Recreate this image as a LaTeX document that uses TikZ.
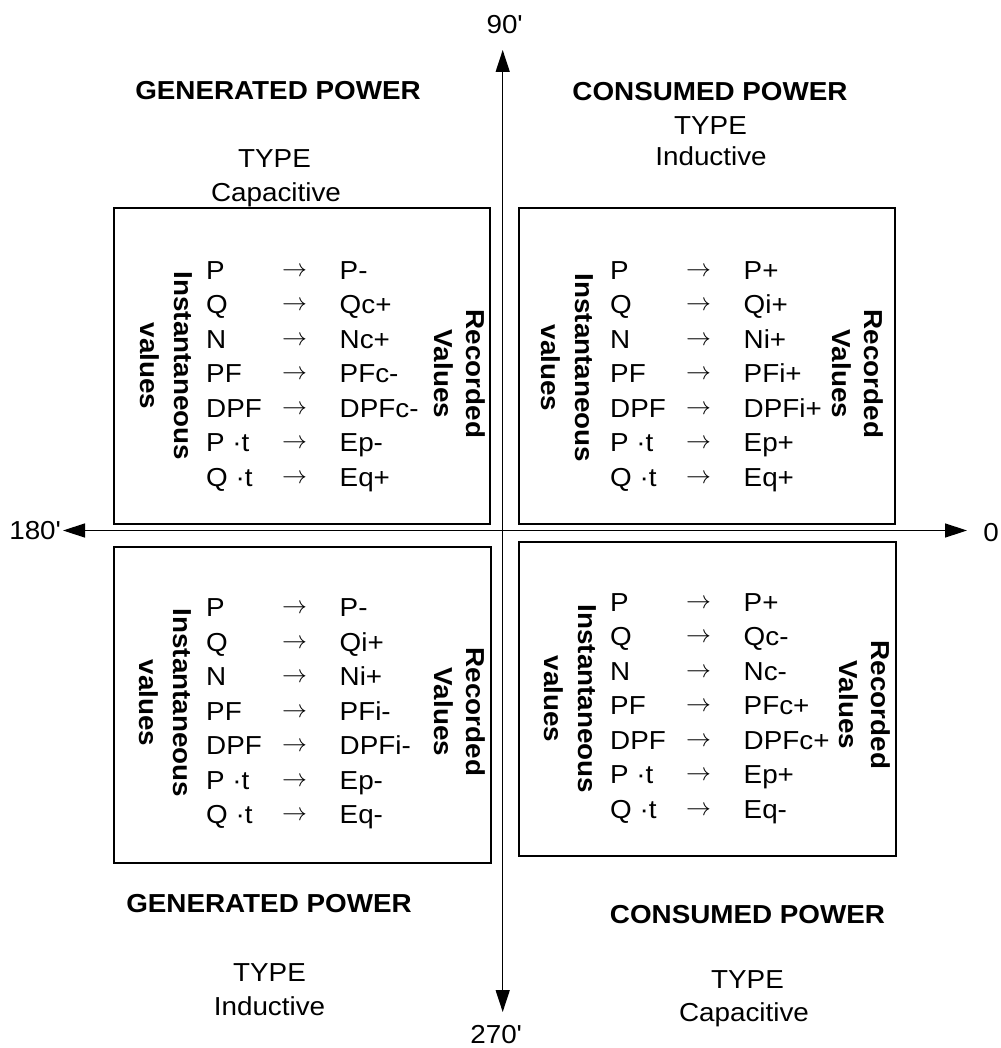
\documentclass[tikz,border=0pt]{standalone}
\usepackage{fontspec}
\setmainfont{Liberation Sans}[FakeStretch=1.07]
\usetikzlibrary{arrows.meta}
\newcommand{\arr}{\raisebox{3pt}{\fontsize{23}{23}\selectfont$\rightarrow$}}
\newcommand{\valtable}[7]{%
\begin{tabular}{@{}p{76pt}@{}p{57.5pt}@{}l@{}}
P & \arr & #1\\ Q & \arr & #2\\ N & \arr & #3\\ PF & \arr & #4\\ DPF & \arr & #5\\ P ·t & \arr & #6\\ Q ·t & \arr & #7
\end{tabular}}
\begin{document}
\begin{tikzpicture}[x=1pt,y=-1pt,
  quadbox/.style={draw, line width=1.2pt, inner sep=0pt},
  vals/.style={inner sep=0pt, anchor=west, font=\fontsize{26}{34.5}\selectfont},
  sidelab/.style={inner sep=0pt, rotate=-90, align=center, font=\bfseries\fontsize{26}{34}\selectfont},
  reclab/.style={inner sep=0pt, rotate=-90, align=center, font=\bfseries\fontsize{26}{32}\selectfont},
  head/.style={inner sep=0pt, anchor=base, font=\bfseries\fontsize{26}{30}\selectfont},
  txt/.style={inner sep=0pt, anchor=base, font=\fontsize{26}{30}\selectfont},
  axis/.style={line width=1.4pt, -{Triangle[length=22pt,width=14pt]}}]
\useasboundingbox (0,0) rectangle (1000,1048);

% boxes
\node[quadbox, minimum width=376pt, minimum height=316pt] (tl) at (302,366) {};
\node[quadbox, minimum width=376pt, minimum height=316pt] (tr) at (707,366) {};
\node[quadbox, minimum width=377pt, minimum height=316pt] (bl) at (302.5,705) {};
\node[quadbox, minimum width=377pt, minimum height=314pt] (br) at (707.5,699) {};

% axes
\coordinate (o) at (502.7,530.5);
\coordinate (east) at (967,530.5);
\coordinate (west) at (63,530.5);
\coordinate (north) at (502.7,50);
\coordinate (south) at (502.7,1012);
\draw[axis] (o) -- (east);
\draw[axis] (o) -- (west);
\draw[axis] (o) -- (north);
\draw[axis] (o) -- (south);

\node[txt] (l0) at (991,541) {0};
\node[txt] (l90) at (504.5,34) {90\textquotesingle};
\node[txt] (l180) at (35,539) {180\textquotesingle};
\node[txt] (l270) at (496,1043) {270\textquotesingle};

% tables
\node[vals] (tlv) at (206,376) {\valtable{P-}{Qc+}{Nc+}{PFc-}{DPFc-}{Ep-}{Eq+}};
\node[vals] (trv) at (610,376) {\valtable{P+}{Qi+}{Ni+}{PFi+}{DPFi+}{Ep+}{Eq+}};
\node[vals] (blv) at (206,713.5) {\valtable{P-}{Qi+}{Ni+}{PFi-}{DPFi-}{Ep-}{Eq-}};
\node[vals] (brv) at (610,708) {\valtable{P+}{Qc-}{Nc-}{PFc+}{DPFc+}{Ep+}{Eq-}};

% side labels
\node[sidelab] (tli) at (166,366) {Instantaneous\\values};
\node[reclab] (tlr) at (460,374) {Recorded\\Values};
\node[sidelab] (tri) at (567,368) {Instantaneous\\values};
\node[reclab] (trr) at (858,374) {Recorded\\Values};
\node[sidelab] (bli) at (165,703) {Instantaneous\\values};
\node[reclab] (blr) at (460,712) {Recorded\\Values};
\node[sidelab] (bri) at (570,699) {Instantaneous\\values};
\node[reclab] (brr) at (865,705) {Recorded\\Values};

% headers
\node[head] (h1) at (278,100) {GENERATED POWER};
\node[txt] (h1a) at (274.5,168) {TYPE};
\node[txt] (h1b) at (276,202) {Capacitive};
\node[head] (h2) at (710,101) {CONSUMED POWER};
\node[txt] (h2a) at (710.5,135) {TYPE};
\node[txt] (h2b) at (711,166) {Inductive};
\node[head] (h3) at (269,912) {GENERATED POWER};
\node[txt] (h3a) at (269.5,981) {TYPE};
\node[txt] (h3b) at (269.5,1015) {Inductive};
\node[head] (h4) at (747.5,923) {CONSUMED POWER};
\node[txt] (h4a) at (747.5,988) {TYPE};
\node[txt] (h4b) at (744,1021) {Capacitive};
\end{tikzpicture}
\end{document}
